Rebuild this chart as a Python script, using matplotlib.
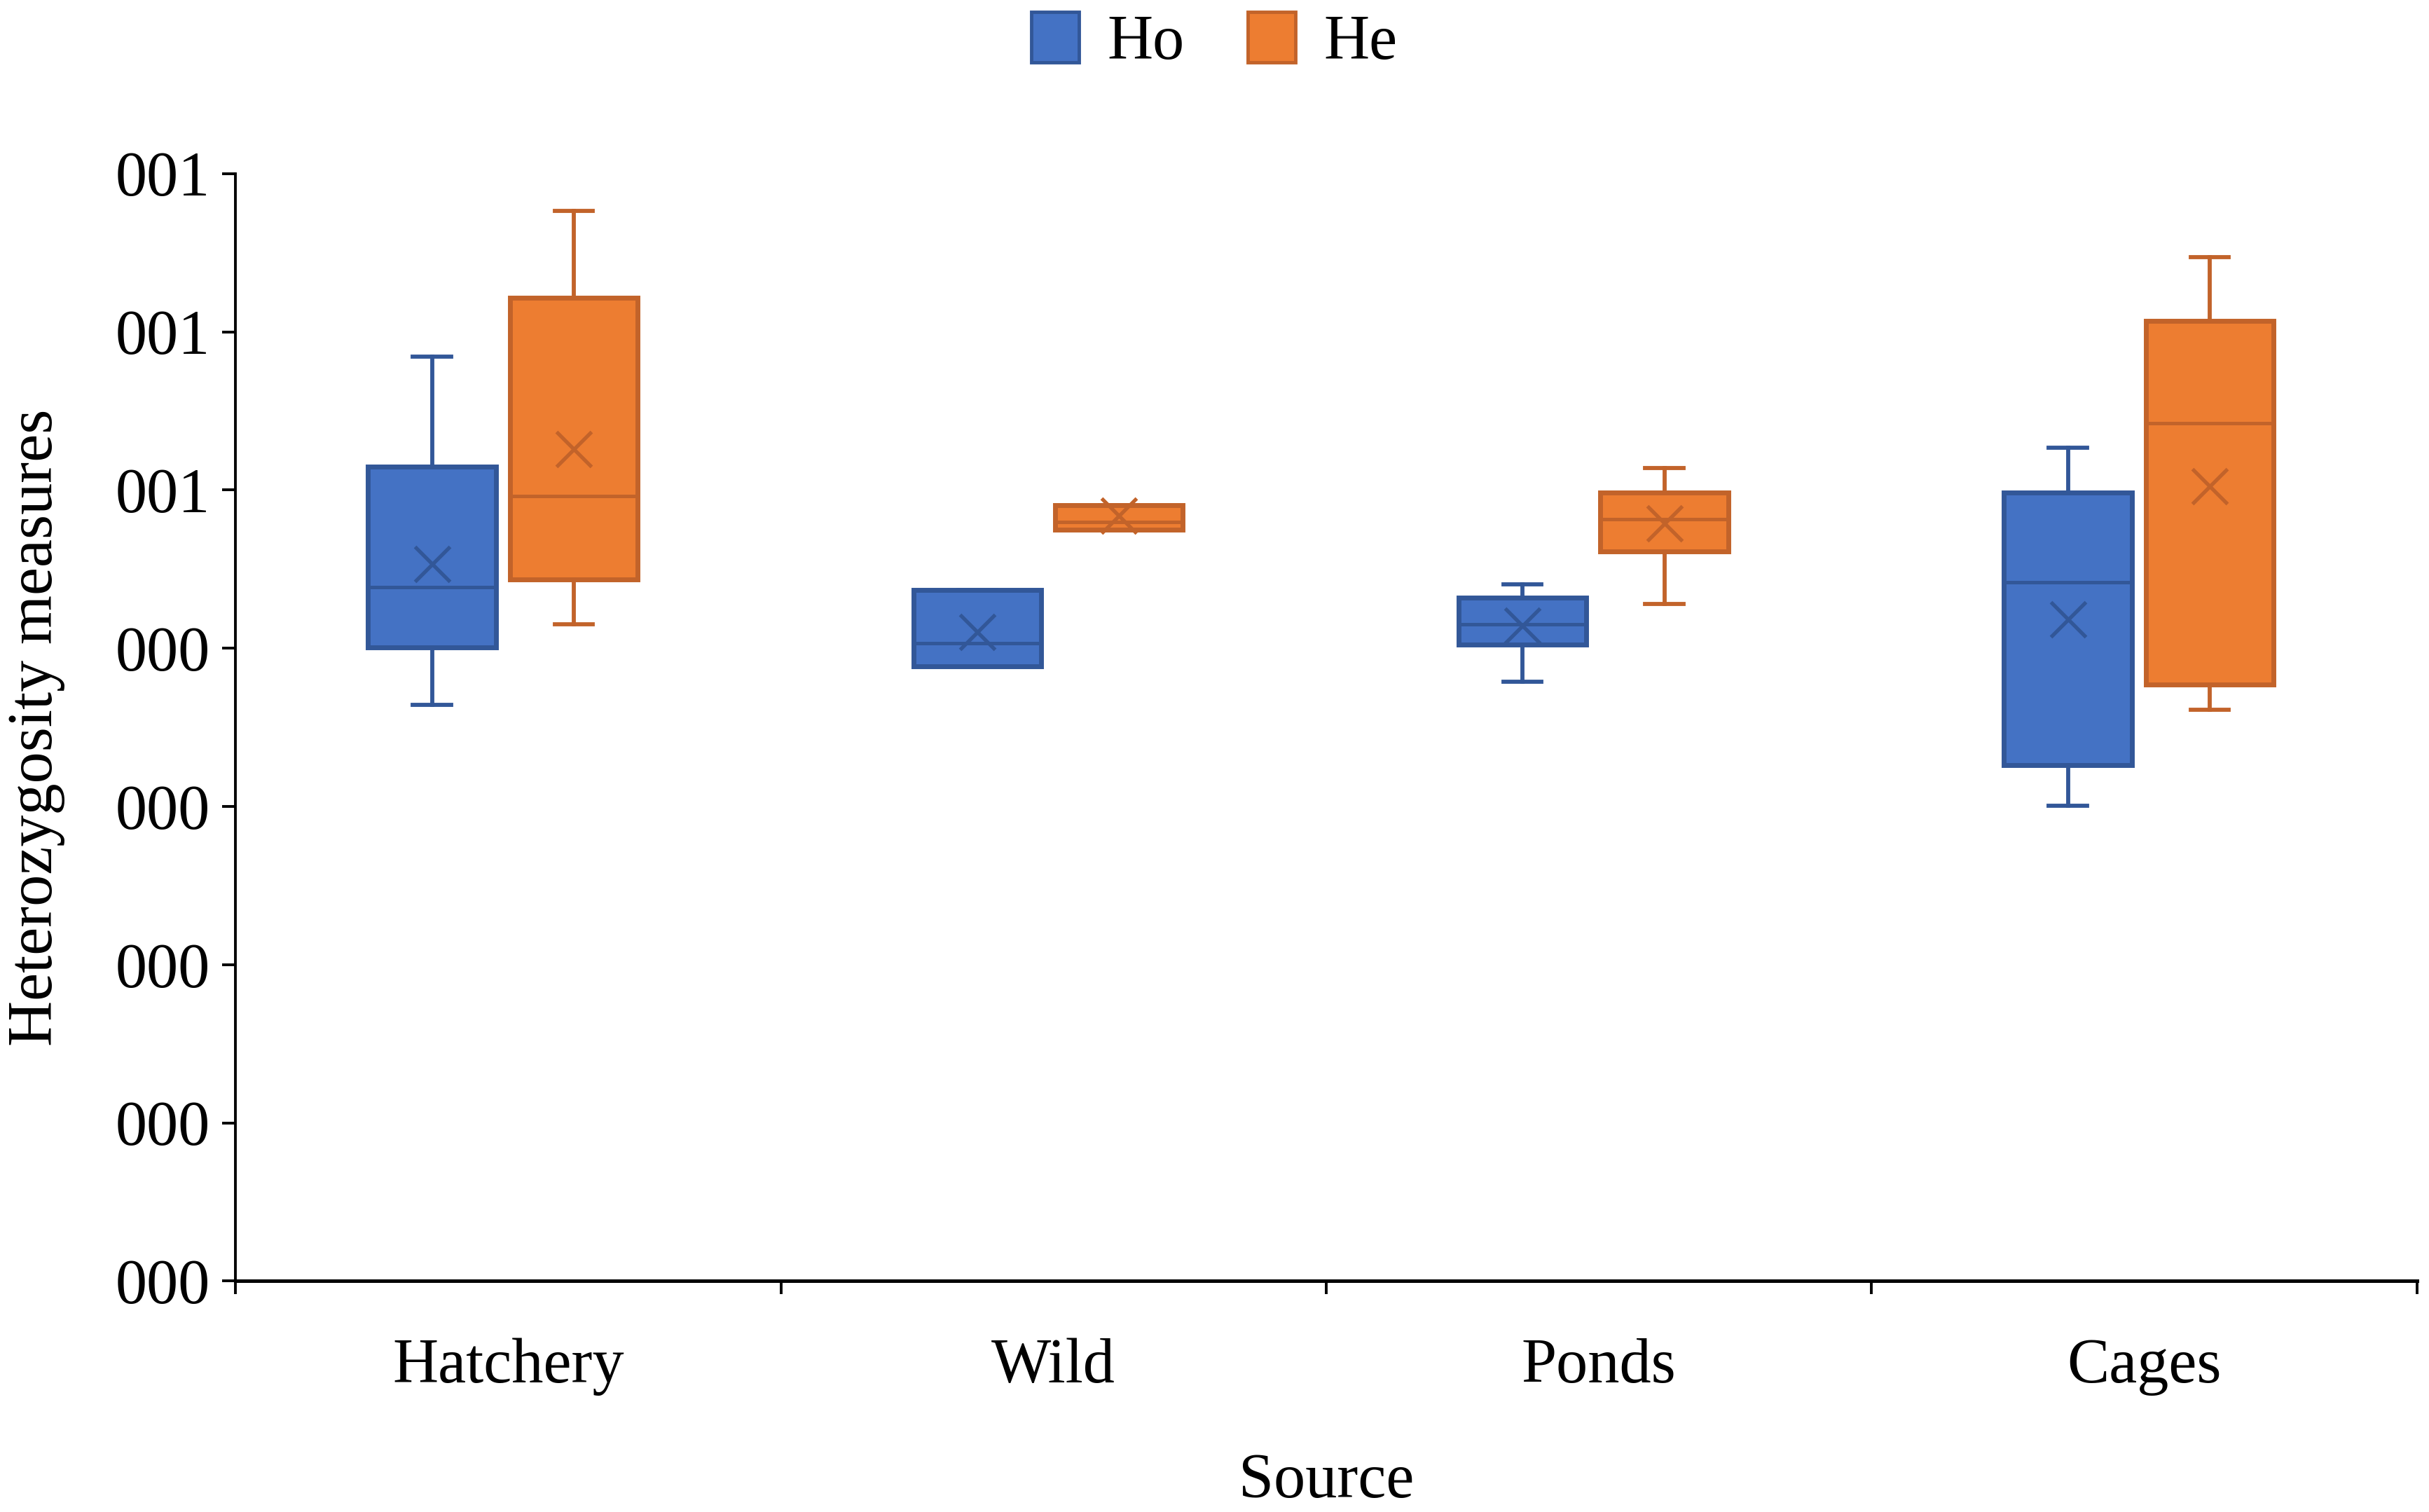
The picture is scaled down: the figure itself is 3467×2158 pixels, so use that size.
import numpy as np
import matplotlib
matplotlib.use("Agg")
import matplotlib.pyplot as plt
from matplotlib.patches import Patch

# =========================================
# DATA
# =========================================
sources = ["Hatchery", "Wild", "Ponds", "Cages"]

# per source: whisker low, q1, median, q3, whisker high, mean
ho_whislo = [0.0003642, 0.0003887, 0.0003789, 0.0003006]
ho_q1     = [0.0004004, 0.0003887, 0.0004024, 0.0003260]
ho_med    = [0.0004386, 0.0004034, 0.0004151, 0.0004416]
ho_q3     = [0.0005150, 0.0004367, 0.0004318, 0.0004983]
ho_whishi = [0.0005845, 0.0004367, 0.0004406, 0.0005267]
ho_mean   = [0.0004533, 0.0004102, 0.0004141, 0.0004181]

he_whislo = [0.0004151, 0.0004748, 0.0004278, 0.0003613]
he_q1     = [0.0004435, 0.0004748, 0.0004611, 0.0003769]
he_med    = [0.0004964, 0.0004797, 0.0004817, 0.0005424]
he_q3     = [0.0006217, 0.0004905, 0.0004983, 0.0006070]
he_whishi = [0.0006765, 0.0004905, 0.0005140, 0.0006472]
he_mean   = [0.0005257, 0.0004837, 0.0004787, 0.0005022]

y_ticks = [0.0000, 0.0001, 0.0002, 0.0003, 0.0004, 0.0005, 0.0006, 0.0007]
y_tick_labels = ["000", "000", "000", "000", "000", "001", "001", "001"]

# =========================================
# STYLE
# =========================================
plt.rcParams["font.family"] = ["Liberation Serif", "DejaVu Serif"]

HO_FILL, HO_EDGE = "#4472C4", "#325798"
HE_FILL, HE_EDGE = "#ED7D31", "#C2632A"
FS = 65


def make_stats(lo, q1, med, q3, hi, mean):
    stats = []
    for i in range(len(lo)):
        stats.append(dict(whislo=lo[i], q1=q1[i], med=med[i], q3=q3[i],
                          whishi=hi[i], mean=mean[i], fliers=[]))
    return stats


def draw_group(ax, stats, positions, fill, edge):
    ax.bxp(
        stats,
        positions=positions,
        widths=0.234,
        patch_artist=True,
        showmeans=True,
        showfliers=False,
        capwidths=0.07,
        boxprops=dict(facecolor=fill, edgecolor=edge, linewidth=5.0),
        medianprops=dict(color=edge, linewidth=3.6),
        whiskerprops=dict(color=edge, linewidth=4.2),
        capprops=dict(color=edge, linewidth=4.2),
        meanprops=dict(marker="x", markeredgecolor=edge, markersize=36,
                       markeredgewidth=3.8, linestyle="none"),
        manage_ticks=False,
    )


fig = plt.figure(figsize=(34.67, 21.58), dpi=100)
ax = fig.add_axes([0.097, 0.1527, 0.898, 0.7325])

x = np.arange(len(sources))
draw_group(ax, make_stats(ho_whislo, ho_q1, ho_med, ho_q3, ho_whishi, ho_mean),
           x - 0.14, HO_FILL, HO_EDGE)
draw_group(ax, make_stats(he_whislo, he_q1, he_med, he_q3, he_whishi, he_mean),
           x + 0.12, HE_FILL, HE_EDGE)

ax.set_xlim(-0.5, len(sources) - 0.5)
ax.set_ylim(0, 0.0007)

# y axis
ax.set_yticks(y_ticks)
ax.set_yticklabels(y_tick_labels, fontsize=FS)
ax.tick_params(axis="y", length=14, width=2.8, pad=12)

# x axis: ticks at category boundaries, labels at centres
ax.set_xticks(np.arange(len(sources) + 1) - 0.5)
ax.set_xticklabels([])
ax.tick_params(axis="x", which="major", length=14, width=2.8, direction="out")
ax.set_xticks(x, minor=True)
ax.set_xticklabels(sources, minor=True, fontsize=FS)
ax.tick_params(axis="x", which="minor", length=0, pad=58)

for side in ["top", "right"]:
    ax.spines[side].set_visible(False)
ax.spines["left"].set_linewidth(2.8)
ax.spines["bottom"].set_linewidth(3.6)

ax.set_ylabel("Heterozygosity measures", fontsize=FS)
ax.yaxis.set_label_coords(-0.078, 0.5)
ax.set_xlabel("Source", fontsize=FS)
ax.xaxis.set_label_coords(0.5, -0.155)

handles = [Patch(facecolor=HO_FILL, edgecolor=HO_EDGE, linewidth=3.5, label="Ho"),
           Patch(facecolor=HE_FILL, edgecolor=HE_EDGE, linewidth=3.5, label="He")]
fig.legend(handles=handles, loc="upper center", bbox_to_anchor=(0.5, 1.03),
           ncol=2, frameon=False, fontsize=FS, handlelength=0.75, handleheight=0.85,
           handletextpad=0.45, columnspacing=1.0)

fig.savefig("out.png", dpi=100, facecolor="white")
